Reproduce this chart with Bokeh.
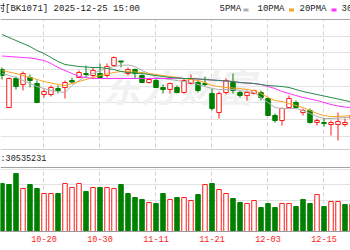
from bokeh.plotting import figure
from bokeh.models import Range1d, FixedTicker, Grid, Span, ColumnDataSource
from bokeh.core.properties import value
from bokeh.embed import file_html
from bokeh.resources import INLINE

# ---------------- data ----------------
dates = ["10-10","10-13","10-14","10-15","10-16","10-17","10-20","10-21","10-22","10-23",
         "10-24","10-27","10-28","10-29","10-30","10-31","11-03","11-04","11-05","11-06",
         "11-07","11-10","11-11","11-12","11-13","11-14","11-17","11-18","11-19","11-20",
         "11-21","11-24","11-25","11-26","11-27","11-28","12-01","12-02","12-03","12-04",
         "12-05","12-08","12-09","12-10","12-11","12-12","12-15","12-16","12-17","12-18",
         "12-19"]
open_ = [1100,1062,1091,1085,1092,1086,1075,1075,1081,1082,
         1089,1092,1096,1094,1096,1094,1104,1108.5,1096,1100,
         1094,1087,1089,1082,1080,1082,1077,1086,1087,1086,
         1076,1057,1077,1087,1077,1074,1076,1077,1071,1054,
         1049,1062,1067,1057,1059,1047,1047,1045,1045,1045,
         1051]
high = [1102,1092,1093,1098,1095,1089,1080,1084,1084,1089,
        1092,1099,1104,1102,1106,1106,1113,1108.5,1102,1101,
        1095,1091,1091,1085,1087,1084,1091,1095,1089,1093,
        1081,1078,1091,1096,1079,1079,1080,1079,1072,1056,
        1062,1074,1069,1061,1061,1051,1051,1049,1057,1051,
        1056]
low = [1090,1062,1080,1079,1082,1067,1072,1073,1076,1071,
       1086,1092,1092,1092,1091,1092,1103,1102,1094,1091,
       1087,1086,1082,1076,1076,1076,1076,1085,1077,1083,
       1059,1051,1075,1076,1072,1069,1075,1069,1054,1047,
       1044,1061,1061,1054,1046,1044,1043,1034,1029,1043,
       1049]
close = [1094,1091,1083,1096,1089,1067,1078,1082,1079,1087,
         1087.5,1097,1095,1099,1092,1103,1112,1107.5,1100,1096,
         1087,1090,1082,1080,1086,1077,1089,1090,1079,1085,
         1061,1076,1089,1079,1074,1077,1079,1072,1054,1049,
         1061,1071,1062,1059,1047,1049,1046,1047,1048,1047,
         1054]
ma5 = [1096,1094,1092,1089,1086,1083,1081,1079,1078,1077,
       1084,1089,1093,1096,1099,1101,1103,1104,1104.5,1103,
       1099,1096,1092,1091,1090,1089,1088,1087,1085,1083,
       1081,1080,1080,1080,1079,1078,1077,1072,1067,1062,
       1061,1061,1061,1059,1056,1053,1051,1051,1051.5,1052,
       1052]
ma10 = [1099,1097.5,1096,1094,1092,1090,1088,1086.5,1085,1084,
        1086,1088,1090,1092,1094,1095.5,1097,1098,1098,1097.5,
        1097,1096,1095,1094,1093,1092,1091,1090,1089,1087,
        1084,1083,1082,1081.5,1081,1080,1079,1076,1072,1069,
        1068,1066,1064,1062,1059,1056,1054,1053,1053,1053.5,
        1054]
ma20 = [1113.5,1113,1112.5,1112,1111.5,1110.5,1109,1106,1102,1099,
        1096,1093,1092,1091,1091,1091,1091,1091,1091,1091,
        1091,1091,1091,1091,1091,1091.5,1091,1091,1090.5,1090,
        1089.5,1089,1088.5,1088,1087,1086.5,1086,1085,1083,1081,
        1078,1076,1074,1072,1070.5,1069,1067,1065,1063.5,1062.5,
        1062]
ma30 = [1135,1132,1129,1126,1123,1119,1116,1112,1108,1105,
        1104,1103,1102.5,1102,1102,1101,1100,1098,1097,1096.5,
        1096,1095,1094,1093,1092,1091.5,1091,1091,1090.5,1090,
        1089.5,1089,1088.5,1088,1087,1086.5,1086,1085,1084,1083.5,
        1083,1082,1080,1078,1076.5,1075,1073.5,1072,1070.5,1069,
        1067.5]
vol = [61.3,60.0,74.0,54.9,60.0,54.9,48.5,48.5,48.5,61.3,
       56.2,61.3,51.1,56.2,56.2,56.2,54.9,60.0,48.5,43.4,
       40.9,37.0,35.7,48.5,40.9,43.4,43.4,39.6,47.2,60.0,
       61.3,53.6,48.5,42.1,37.0,35.7,39.6,30.6,35.7,30.6,
       35.7,35.7,31.9,40.9,35.7,47.2,31.9,38.3,38.3,34.5,
       34.5]
tick_labels = ["10-20", "10-30", "11-11", "11-21", "12-03", "12-15"]
price_grid = [1033.33, 1050, 1066.67, 1083.33, 1100, 1116.67, 1133.33]
vol_grid = [20, 40, 60]
header_text = "村[BK1071] 2025-12-25 15:00"
vol_text = ":30535231"
ma_names = ["5PMA", "10PMA", "20PMA", "30PMA"]
watermark = "东方财富"

# ---------------- styles / layout ----------------
RED = "#ff1a1a"
GREEN = "#008000"
MA_COLORS = ["#b0b0b0", "#f5a623", "#ff33ff", "#2a8a4a"]
MONO = "Liberation Mono, Noto Sans CJK SC"
W, H = 350, 250
FRAME_H = 231
X0, PXU = -0.214, 7.0
Y_TOP = 1169.0


def dx(px):
    return X0 + px / PXU


def py(px):
    return Y_TOP - px


xs = list(range(len(dates)))
up = [c >= o for o, c in zip(open_, close)]
vol_up = [close[i] >= (close[i - 1] if i > 0 else open_[0]) for i in range(len(close))]

p = figure(width=W, height=H, output_backend="svg", toolbar_location=None,
           x_range=Range1d(X0, X0 + W / PXU), y_range=Range1d(Y_TOP - FRAME_H, Y_TOP),
           y_axis_location=None, min_border_left=0, min_border_right=0,
           min_border_top=0, min_border_bottom=H - FRAME_H)
p.extra_y_ranges = {"vol": Range1d(0, FRAME_H * 20 / 15.67)}
p.outline_line_color = None
p.background_fill_color = "white"
p.border_fill_color = "white"

# x axis with date labels
tick_pos = [dates.index(t) for t in tick_labels]
p.xaxis.ticker = FixedTicker(ticks=tick_pos)
p.xaxis.major_label_overrides = {tp: lbl for tp, lbl in zip(tick_pos, tick_labels)}
p.xaxis.axis_line_color = "#9a9a9a"
p.xaxis.major_tick_out = 0
p.xaxis.major_tick_in = 0
p.xaxis.minor_tick_out = 0
p.xaxis.minor_tick_in = 0
p.xaxis.major_label_standoff = 4
p.xaxis.major_label_text_font = MONO
p.xaxis.major_label_text_font_size = "8.5px"
p.xaxis.major_label_text_color = RED
p.xgrid.grid_line_color = "#d2d2d2"
p.xgrid.grid_line_dash = "4 3"

# horizontal grids
p.add_layout(Grid(dimension=1, ticker=FixedTicker(ticks=price_grid),
                  grid_line_color="#e2e2e2"), "center")
p.add_layout(Grid(dimension=1, ticker=FixedTicker(ticks=vol_grid), y_range_name="vol",
                  grid_line_color="#e2e2e2"), "center")

# watermark
p.text(x=[dx(178)], y=[py(85)], text=[watermark], text_font=value("Noto Sans CJK SC"),
       text_font_size="38px", text_font_style="bold italic", text_color="#f1f1f1",
       text_align="center", text_baseline="middle")

# white header / label boxes (hide dashed grid there)
p.quad(left=[dx(-5), dx(-5)], right=[dx(W + 5), dx(W + 5)],
       top=[py(-2), py(149)], bottom=[py(19), py(167)],
       fill_color="white", line_color=None)

# volume
vsrc = ColumnDataSource(dict(x=xs, top=vol,
                             line=[RED if u else GREEN for u in vol_up],
                             fill=["white" if u else GREEN for u in vol_up]))
p.vbar(x="x", width=0.64, top="top", bottom=0, source=vsrc, y_range_name="vol",
       fill_color="fill", line_color="line", line_width=1)

# candles
csrc = ColumnDataSource(dict(x=xs, high=high, low=low,
                             top=[max(o, c) for o, c in zip(open_, close)],
                             bottom=[min(o, c) for o, c in zip(open_, close)],
                             line=[RED if u else GREEN for u in up],
                             fill=["white" if u else GREEN for u in up]))
p.segment(x0="x", y0="high", x1="x", y1="low", line_color="line", line_width=1, source=csrc)
p.vbar(x="x", width=0.64, top="top", bottom="bottom", fill_color="fill",
       line_color="line", line_width=1, source=csrc)

# moving averages
for series, col in zip([ma5, ma10, ma20, ma30], MA_COLORS):
    p.line(xs, series, line_color=col, line_width=1)

# header text
p.text(x=[dx(-4.5)], y=[py(8.5)], text=[header_text], text_font=value(MONO),
       text_font_size="9px", text_color="#222222", text_align="left", text_baseline="middle")

# MA legend
leg_text_px = [219, 257, 299, 341]
leg_mark_px = [245.5, 291, 333.5, 375]
p.text(x=[dx(v) for v in leg_text_px], y=[py(8.5)] * 4, text=ma_names,
       text_font=value(MONO), text_font_size="9px", text_color="#222222",
       text_align="left", text_baseline="middle")
p.rect(x=[dx(v) for v in leg_mark_px], y=[py(9.5)] * 4, width=5 / PXU, height=3,
       fill_color=MA_COLORS, line_color=None)

# volume label
p.text(x=[dx(0)], y=[py(158)], text=[vol_text], text_font=value(MONO),
       text_font_size="8.5px", text_color="#222222", text_align="left", text_baseline="middle")

# borders
for row, col in [(19, "#a8a8a8"), (149, "#cfcfcf"), (167, "#a0a0a0")]:
    p.add_layout(Span(location=py(row), dimension="width", line_color=col, line_width=1))

open("out.html", "w").write(file_html(p, INLINE))
